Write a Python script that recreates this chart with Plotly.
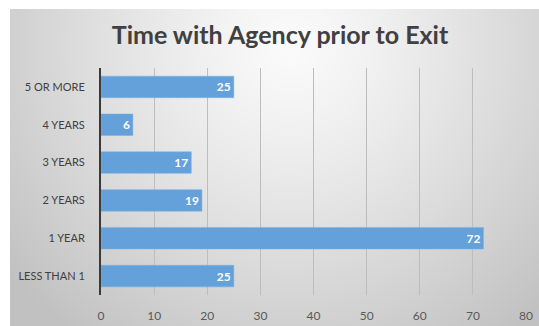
import base64
import struct
import zlib

import numpy as np
import plotly.graph_objects as go

# Data
categories = ["LESS THAN 1", "1 YEAR", "2 YEARS", "3 YEARS", "4 YEARS", "5 OR MORE"]
counts = [25, 72, 19, 17, 6, 25]
x_ticks = [0, 10, 20, 30, 40, 50, 60, 70, 80]

W, H = 539, 326
ML, MR, MT, MB = 101, 13, 68, 31
PW, PH = W - ML - MR, H - MT - MB


def gray_png(arr):
    """Encode a 2-D uint8 array as a grayscale PNG data URI."""
    h, w = arr.shape
    raw = b"".join(b"\x00" + arr[r].tobytes() for r in range(h))

    def chunk(tag, data):
        c = struct.pack(">I", len(data)) + tag + data
        return c + struct.pack(">I", zlib.crc32(tag + data) & 0xFFFFFFFF)

    png = b"\x89PNG\r\n\x1a\n"
    png += chunk(b"IHDR", struct.pack(">IIBBBBB", w, h, 8, 0, 0, 0, 0))
    png += chunk(b"IDAT", zlib.compress(raw, 9))
    png += chunk(b"IEND", b"")
    return "data:image/png;base64," + base64.b64encode(png).decode()


# Radial grey backdrop for the chart panel
bx0, by0 = 10, 9
bw, bh = W - bx0, H - by0
yy, xx = np.mgrid[0:bh, 0:bw]
cx, cy = 290 - bx0, 45 - by0
d = np.sqrt(((xx - cx) / 300.0) ** 2 + ((yy - cy) / 300.0) ** 2)
shade = 251 - 46 * np.clip(d, 0, 1.2) ** 1.2
panel = gray_png(np.clip(shade, 0, 255).astype(np.uint8))

fig = go.Figure()
fig.add_trace(go.Bar(
    y=categories,
    x=counts,
    orientation="h",
    marker=dict(color="#64a0da", line=dict(color="#7fb0e0", width=0.5)),
    text=[str(v) for v in counts],
    textposition="inside",
    insidetextanchor="end",
    textangle=0,
    textfont=dict(family="Lato", size=12, color="white", weight="bold"),
    hoverinfo="skip",
))

fig.add_layout_image(dict(
    source=panel,
    xref="paper", yref="paper",
    x=(bx0 - ML) / PW, y=1 + (MT - by0) / PH,
    sizex=bw / PW, sizey=bh / PH,
    xanchor="left", yanchor="top",
    sizing="stretch", layer="below",
))

fig.update_layout(
    width=W, height=H,
    margin=dict(l=ML, r=MR, t=MT, b=MB, pad=0, autoexpand=False),
    paper_bgcolor="white",
    plot_bgcolor="rgba(0,0,0,0)",
    showlegend=False,
    bargap=0.43,
    title=dict(
        text="Time with Agency prior to Exit",
        font=dict(family="Lato", size=25, color="#404040", weight="bold"),
        x=280 / W, xanchor="center",
        y=1 - 35 / H, yanchor="middle",
    ),
    xaxis=dict(
        range=[0, 80],
        tickvals=x_ticks,
        automargin=False,
        showgrid=True,
        gridcolor="#bdbdbd",
        gridwidth=1,
        zeroline=False,
        showline=False,
        ticks="outside",
        ticklen=10,
        tickcolor="rgba(0,0,0,0)",
        ticklabeloverflow="allow",
        tickfont=dict(family="Lato", size=12, color="#595959"),
        fixedrange=True,
    ),
    yaxis=dict(
        categoryorder="array",
        categoryarray=categories,
        automargin=False,
        showline=True,
        linecolor="#3a3a3a",
        linewidth=2,
        showgrid=False,
        ticks="outside",
        ticklen=12,
        tickcolor="rgba(0,0,0,0)",
        tickfont=dict(family="Lato", size=11, color="#404040"),
        fixedrange=True,
    ),
)

fig.write_html("out.html")
